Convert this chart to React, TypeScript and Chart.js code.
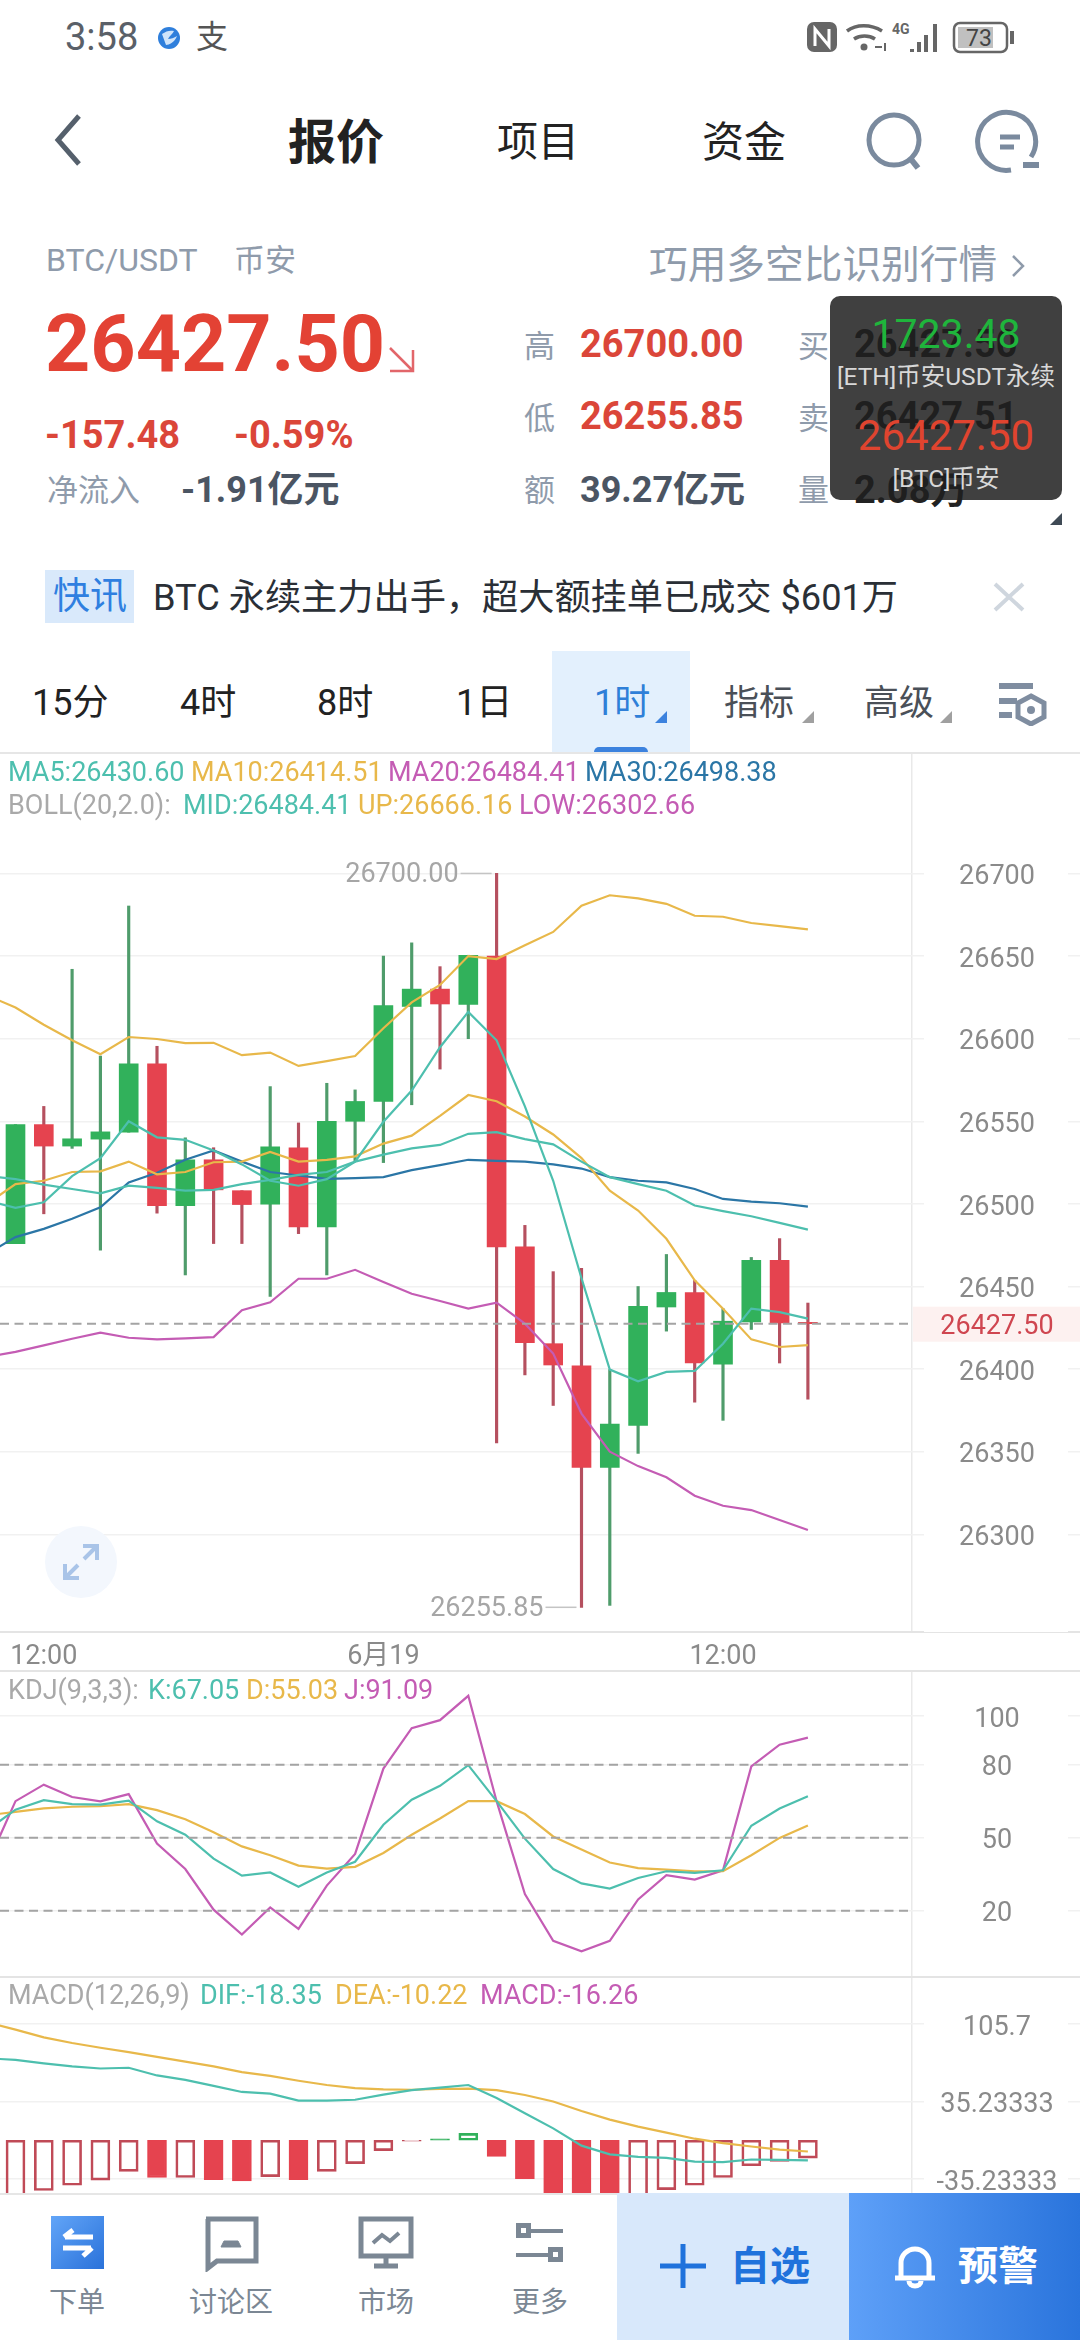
import React, { useEffect, useRef } from "react";
import { Chart, registerables } from "chart.js";

Chart.register(...registerables);

// ---------- data ----------
const candleOpen = [26476, 26548, 26535, 26539.2, 26543.4, 26584.7, 26499, 26526.7, 26508, 26499.8, 26534, 26486, 26550, 26562, 26619.5, 26630, 26620.8, 26650, 26474, 26415.4, 26402, 26340.5, 26366, 26437.6, 26446.4, 26403, 26428.5, 26465.8, 26428.3];
const candleClose = [26548, 26535, 26539.4, 26543.6, 26584.7, 26499, 26526.7, 26508.5, 26499.6, 26534.6, 26486, 26550, 26562, 26620, 26630, 26621, 26650.5, 26474, 26416, 26402.5, 26340.5, 26366.7, 26438, 26446.4, 26403.7, 26429, 26465.8, 26428, 26427.5];
const candleHigh = [26548, 26559, 26642, 26589.5, 26680.3, 26595.4, 26540, 26534, 26508, 26571, 26549, 26573, 26569, 26650, 26658, 26643.6, 26650.5, 26700, 26487, 26459, 26461, 26399.7, 26450, 26469.4, 26453.7, 26436.6, 26467.6, 26479, 26440];
const candleLow = [26476, 26494, 26533.6, 26472, 26543.4, 26494.4, 26457, 26476, 26476, 26444, 26482, 26457, 26526, 26525, 26560, 26581.6, 26600, 26355.4, 26396.5, 26378, 26255.85, 26257, 26349, 26423, 26380, 26369, 26424, 26403.7, 26381.8];

// line series start one slot before the first visible candle
const ma5 = [26502, 26497.6, 26501, 26516.8, 26527.7, 26550, 26540.3, 26538.8, 26532.3, 26523.9, 26514, 26511, 26515, 26525.6, 26549.7, 26568.6, 26594.8, 26616.2, 26599, 26559, 26514, 26455, 26399.7, 26392.6, 26398.3, 26398.9, 26415.4, 26436.6, 26434.5, 26430.6];
const ma10 = [26500, 26512, 26514, 26519.3, 26519.7, 26525.6, 26517.9, 26519.3, 26525.2, 26525.6, 26531.5, 26525.6, 26526.7, 26528.8, 26536.5, 26541.3, 26553.3, 26565.9, 26562.1, 26552.9, 26542, 26527.7, 26508, 26496, 26478.9, 26453.7, 26436.6, 26418, 26413.4, 26414.51];
const ma30 = [26469.8, 26479.9, 26484.9, 26491, 26498, 26513, 26518.9, 26526.7, 26532.3, 26525.6, 26519.3, 26517.2, 26515.1, 26515.6, 26516.2, 26520.4, 26523.5, 26526.7, 26526, 26525.6, 26523.9, 26521.4, 26516.2, 26514, 26513, 26509, 26503, 26501.4, 26500.4, 26498.38];
const bollMid = [26517, 26515, 26511.7, 26509, 26506.4, 26511, 26509.7, 26508, 26508.5, 26512, 26514.5, 26517.6, 26519.3, 26525.6, 26529.8, 26533.6, 26535.7, 26542.4, 26543.4, 26539.2, 26536, 26525.6, 26516.2, 26512, 26508, 26499, 26495.6, 26492.5, 26488.5, 26484.41];
const bollUp = [26626.2, 26618.9, 26608.4, 26599, 26590.6, 26601, 26599.8, 26597.3, 26597.5, 26590, 26591.6, 26583.5, 26586.4, 26589.5, 26606.3, 26622, 26632.5, 26650, 26648.2, 26656.6, 26664.6, 26680.5, 26686.8, 26684.9, 26681.6, 26674.4, 26673.8, 26670, 26668.1, 26666.16];
const bollLow = [26407.4, 26410.4, 26414.4, 26418.4, 26422.1, 26419, 26418, 26418.6, 26419.4, 26435.6, 26440.4, 26454.7, 26454.7, 26460.1, 26452.7, 26445.6, 26441.2, 26436.6, 26440.2, 26427.5, 26409.4, 26373.1, 26350, 26341.3, 26334.5, 26323.4, 26317.3, 26314.7, 26308.7, 26302.66];

const kdjK = [53.1, 61.5, 65.4, 63.8, 63.6, 65.2, 56.7, 51.2, 41.4, 34.4, 35.7, 29.8, 35.7, 40.1, 55.3, 65.6, 71.3, 79.8, 65, 49.6, 37.1, 31.2, 29.1, 33.4, 36.2, 35.5, 36.6, 54.9, 62, 67.05];
const kdjD = [59.2, 60.6, 62, 62.7, 62.9, 63.8, 61.3, 57.6, 52.2, 46.4, 42.8, 38.5, 37.3, 38, 43.7, 51.2, 57.9, 65, 65, 59.7, 50.5, 45.1, 39.8, 37.5, 36.9, 36.2, 36.2, 42.8, 49.9, 55.03];
const kdjJ = [39, 65, 71.8, 66.7, 64.9, 67.9, 47.6, 37.1, 20.4, 10.2, 21.3, 12.5, 30.3, 43.3, 78.4, 95, 98.3, 108.3, 65, 26.8, 7.6, 3.3, 7.6, 24.6, 34.6, 32.8, 36.6, 79.3, 88.2, 91.09];

const macdDif = [74.6, 73, 69.9, 67.1, 65.2, 65.9, 58.9, 54.9, 49.4, 43.9, 42.3, 36, 36, 36.8, 41.5, 45.5, 47.8, 50.2, 38.4, 24.6, 10.8, -4.9, -12.8, -15.2, -16, -19.5, -19.9, -17.5, -17.9, -18.35];
const macdDea = [107.3, 100.6, 93.5, 88.4, 84.1, 80.1, 75.8, 71.5, 67.1, 62, 58.5, 54.1, 50.2, 47.4, 46.3, 45.9, 46.6, 47, 45.5, 41.1, 35.2, 26.6, 18.7, 12.4, 6.9, 1.4, -2.6, -5.7, -8.5, -10.22];
const macdBars = [-57, -45.7, -40.9, -36.2, -28.3, -33.9, -33.9, -35.8, -37, -33.1, -35.8, -28.3, -21.3, -9.4, -0.8, 1.2, 6.3, -14.6, -35, -49, -63, -63, -55, -44.9, -40.9, -33.9, -23.2, -19.3, -16.26];
const macdSolid = [0, 0, 0, 0, 0, 1, 0, 1, 1, 0, 1, 0, 0, 0, 0, 1, 0, 1, 1, 1, 1, 1, 0, 0, 0, 0, 0, 0, 0];

const lastPrice = 26427.5;
const highPrice = 26700;
const lowPrice = 26255.85;
const highIndex = 17;
const lowIndex = 20;
const priceTicks = [26300, 26350, 26400, lastPrice, 26450, 26500, 26550, 26600, 26650, 26700];
const kdjTicks = [20, 50, 80, 100];
const kdjDashes = [20, 50, 80];
const macdTicks = [-35.23333, 35.23333, 105.7];
const macdTickLabels = ["-35.23333", "35.23333", "105.7"];
const timeTickIndex = [1, 13, 25];
const timeTickLabels = ["12:00", "6月19", "12:00"];

// ---------- layout and style ----------
const SLOT = 28.3;
const FIRST = 15.5;
const xOf = (px: number) => (px - FIRST) / SLOT;
const X_MIN = xOf(0);
const X_MAX = xOf(1080);
const X_SEP = xOf(912);
const FONT = 'Roboto, "Noto Sans CJK SC", sans-serif';
const UP = "#31B15B";
const DOWN = "#E5434F";
const UP_WICK = "#4F9C6B";
const DOWN_WICK = "#B5505F";
const TEAL = "#4DBFAE";
const YELLOW = "#E8B84A";
const MAGENTA = "#C45CB4";
const BLUE = "#2B76A6";
const GRID = "#F1F1F1";
const TICK = "#8A8A8A";
const GREY = "#8F9BAB";
const RED = "#DB4639";
const TICK_FONT = 27;

function series(values: number[]) {
  return values.map((y, i) => ({ x: i - 1, y }));
}
function lineSet(values: number[], color: string, order: number) {
  return { type: "line", data: series(values), borderColor: color, borderWidth: 2.2, pointRadius: 0, tension: 0, order };
}
function dashSet(value: number) {
  return {
    type: "line",
    data: [{ x: X_MIN, y: value }, { x: X_SEP, y: value }],
    borderColor: "#A4A4A4",
    borderWidth: 2,
    borderDash: [9, 5.5],
    pointRadius: 0,
    order: 0,
  };
}
function paddingFor(labels: string[]) {
  const ctx = document.createElement("canvas").getContext("2d")!;
  ctx.font = `${TICK_FONT}px Roboto`;
  const widest = Math.max(...labels.map((l) => ctx.measureText(l).width));
  return 997 - 1080 + widest / 2;
}
function xScale(showLabels: boolean) {
  const values = [...timeTickIndex, X_SEP];
  return {
    type: "linear",
    min: X_MIN,
    max: X_MAX,
    offset: false,
    afterBuildTicks: (s: any) => { s.ticks = values.map((value) => ({ value })); },
    afterFit: (s: any) => { s.height = showLabels ? 39 : 0; },
    border: { display: showLabels, color: "#E4E4E4", width: 2 },
    grid: {
      offset: false,
      drawTicks: false,
      lineWidth: 1.5,
      color: (c: any) => (c.tick && c.tick.value === X_SEP ? "#E9E9E9" : "rgba(0,0,0,0)"),
    },
    ticks: {
      display: showLabels,
      autoSkip: false,
      maxRotation: 0,
      padding: 9,
      color: TICK,
      z: 1,
      font: { family: FONT, size: TICK_FONT },
      callback: (v: number) => {
        const i = timeTickIndex.indexOf(v);
        return i < 0 ? "" : timeTickLabels[i];
      },
    },
  };
}
function yScale(min: number, max: number, ticks: number[], labels: string[]) {
  return {
    type: "linear",
    position: "right",
    min,
    max,
    afterBuildTicks: (s: any) => { s.ticks = ticks.map((value) => ({ value })); },
    border: { display: false },
    grid: {
      drawTicks: false,
      lineWidth: 1.5,
      color: (c: any) => (c.tick && c.tick.value === lastPrice ? "rgba(0,0,0,0)" : GRID),
    },
    ticks: {
      mirror: true,
      crossAlign: "center",
      padding: paddingFor(labels),
      labelOffset: 4,
      autoSkip: false,
      z: 1,
      font: { family: FONT, size: TICK_FONT },
      color: (c: any) => (c.tick && c.tick.value === lastPrice ? "#CF4650" : TICK),
      callback: (v: number) => labels[ticks.indexOf(v)],
    },
  };
}
// clears the grid behind the axis labels (and tints the current price row)
const gutterPlugin = {
  id: "gutter",
  beforeDatasetsDraw(chart: any) {
    const { ctx, chartArea, scales } = chart;
    ctx.save();
    ctx.fillStyle = "#FFFFFF";
    ctx.fillRect(924, chartArea.top, 144, chartArea.bottom - chartArea.top);
    if (chart.options.plugins.gutter.price) {
      const y = scales.y.getPixelForValue(lastPrice);
      ctx.fillStyle = "#FDF1F0";
      ctx.fillRect(913, y - 17, 167, 35);
    }
    ctx.restore();
  },
};
// high and low markers next to their wicks
const extremesPlugin = {
  id: "extremes",
  afterDatasetsDraw(chart: any) {
    const { ctx, scales } = chart;
    const mark = (index: number, value: number, text: string) => {
      const x = scales.x.getPixelForValue(index);
      const y = scales.y.getPixelForValue(value);
      ctx.save();
      ctx.strokeStyle = "#C4C4C4";
      ctx.lineWidth = 1.5;
      ctx.beginPath();
      ctx.moveTo(x - 36, y);
      ctx.lineTo(x - 5, y);
      ctx.stroke();
      ctx.fillStyle = "#A6A6A6";
      ctx.font = `${TICK_FONT}px ${FONT}`;
      ctx.textAlign = "right";
      ctx.textBaseline = "middle";
      ctx.fillText(text, x - 38, y + 2);
      ctx.restore();
    };
    mark(highIndex, highPrice, highPrice.toFixed(2));
    mark(lowIndex, lowPrice, lowPrice.toFixed(2));
  },
};
function baseOptions(extra: any) {
  return {
    responsive: false,
    animation: false,
    devicePixelRatio: 1,
    events: [],
    layout: { padding: 0 },
    datasets: { bar: { grouped: false } },
    plugins: { legend: { display: false }, tooltip: { enabled: false }, gutter: {} },
    ...extra,
  };
}

function useChart(make: (canvas: HTMLCanvasElement) => Chart) {
  const ref = useRef<HTMLCanvasElement>(null);
  useEffect(() => {
    const chart = make(ref.current!);
    return () => chart.destroy();
  }, []);
  return ref;
}

function PriceChart() {
  const ref = useChart((canvas) => {
    const isUp = (i: number) => candleClose[i] >= candleOpen[i];
    return new Chart(canvas, {
      type: "bar",
      data: {
        datasets: [
          dashSet(lastPrice),
          lineSet(bollMid, TEAL, 1),
          lineSet(ma5, TEAL, 1),
          lineSet(ma10, YELLOW, 2),
          lineSet(bollUp, YELLOW, 2),
          lineSet(bollLow, MAGENTA, 2),
          lineSet(ma30, BLUE, 3),
          {
            data: candleOpen.map((o, i) => ({ x: i, y: [o, candleClose[i]] })),
            backgroundColor: candleOpen.map((_, i) => (isUp(i) ? UP : DOWN)),
            barThickness: 19,
            order: 5,
          },
          {
            data: candleLow.map((l, i) => ({ x: i, y: [l, candleHigh[i]] })),
            backgroundColor: candleLow.map((_, i) => (isUp(i) ? UP_WICK : DOWN_WICK)),
            barThickness: 2.5,
            order: 6,
          },
        ] as any,
      },
      options: baseOptions({
        plugins: { legend: { display: false }, tooltip: { enabled: false }, gutter: { price: true } },
        scales: {
          x: xScale(true),
          y: yScale(26240.9, 26772.9, priceTicks, priceTicks.map((v) => (v === lastPrice ? v.toFixed(2) : String(v)))),
        },
      }) as any,
      plugins: [gutterPlugin, extremesPlugin],
    });
  });
  return <canvas ref={ref} width={1080} height={918} style={{ position: "absolute", left: 0, top: 753, display: "block" }} />;
}

function KdjChart() {
  const ref = useChart((canvas) =>
    new Chart(canvas, {
      type: "line",
      data: {
        datasets: [
          ...kdjDashes.map(dashSet),
          lineSet(kdjK, TEAL, 1),
          lineSet(kdjD, YELLOW, 1),
          lineSet(kdjJ, MAGENTA, 1),
        ] as any,
      },
      options: baseOptions({
        scales: { x: xScale(false), y: yScale(-7.27, 118.5, kdjTicks, kdjTicks.map(String)) },
      }) as any,
      plugins: [gutterPlugin],
    })
  );
  return <canvas ref={ref} width={1080} height={306} style={{ position: "absolute", left: 0, top: 1671, display: "block" }} />;
}

function MacdChart() {
  const ref = useChart((canvas) => {
    const tone = (i: number) => (macdBars[i] >= 0.5 ? UP : macdSolid[i] ? DOWN : "#C04A57");
    return new Chart(canvas, {
      type: "bar",
      data: {
        datasets: [
          lineSet(macdDif, TEAL, 1),
          lineSet(macdDea, YELLOW, 1),
          {
            data: macdBars.map((y, i) => ({ x: i, y })),
            backgroundColor: macdBars.map((_, i) => (macdSolid[i] ? tone(i) : "rgba(0,0,0,0)")),
            borderColor: macdBars.map((_, i) => tone(i)),
            borderWidth: 2,
            borderSkipped: false,
            barThickness: 19,
            order: 5,
          },
        ] as any,
      },
      options: baseOptions({
        scales: { x: xScale(false), y: yScale(-47.96, 148.4, macdTicks, macdTickLabels) },
      }) as any,
      plugins: [gutterPlugin],
    });
  });
  return <canvas ref={ref} width={1080} height={216} style={{ position: "absolute", left: 0, top: 1977, display: "block" }} />;
}

type TP = { x: number; y: number; s: number; c: string; b?: boolean; a?: "l" | "c" | "r"; children: React.ReactNode };
function T({ x, y, s, c, b, a = "l", children }: TP) {
  const tx = a === "l" ? "0" : a === "c" ? "-50%" : "-100%";
  return (
    <div style={{ position: "absolute", left: x, top: y, transform: `translate(${tx},-50%)`, fontSize: s, color: c, fontWeight: b ? 700 : 400, fontFamily: FONT, lineHeight: 1.1, whiteSpace: "pre" }}>
      {children}
    </div>
  );
}
function Box({ x, y, w, h, bg, r = 0 }: { x: number; y: number; w: number; h: number; bg: string; r?: number | string }) {
  return <div style={{ position: "absolute", left: x, top: y, width: w, height: h, background: bg, borderRadius: r }} />;
}

function Triangle({ x, y, c }: { x: number; y: number; c: string }) {
  return <svg style={{ position: "absolute", left: x, top: y }} width="12" height="12"><path d="M12 0V12H0Z" fill={c} /></svg>;
}

function Overlay() {
  const FS = 27;
  return (
    <>
      {/* status bar */}
      <T x={65} y={38} s={38} c="#5A6068">3:58</T>
      <svg style={{ position: "absolute", left: 157, top: 26 }} width="24" height="24"><circle cx="12" cy="12" r="11" fill="#2F7FDC" /><path d="M5 8c4-3 8-4 12-3-1 3-5 5-6 8 3 0 6-1 9-3-2 6-8 9-11 9z" fill="#CFE4FA" /></svg>
      <T x={212} y={38} s={32} c="#555" a="c">支</T>
      <svg style={{ position: "absolute", left: 804, top: 20 }} width="215" height="36" fill="none" stroke="#666" strokeWidth="3">
        <rect x="3" y="2" width="30" height="30" rx="7" fill="#666" stroke="none" />
        <path d="M11 26V9l14 17V9" stroke="#fff" strokeWidth="3" />
        <path d="M43 11c9-7 24-7 35 0M50 19c6-4 15-4 21 0" strokeWidth="3.5" />
        <circle cx="60" cy="27" r="3.5" fill="#666" stroke="none" />
        <path d="M71 27h7M81 23v8" strokeWidth="2" />
        <text x="88" y="14" fontSize="14" fontWeight="700" fill="#666" stroke="none" fontFamily="Roboto">4G</text>
        <path d="M108 32v-3M115 32v-10M122 32v-17M131 32v-28" strokeWidth="4" />
        <rect x="150" y="3" width="53" height="29" rx="6" strokeWidth="2.5" />
        <rect x="154" y="7" width="35" height="21" fill="#C0C0C0" stroke="none" />
        <path d="M208 11v13" strokeWidth="4" />
        <text x="175" y="26" fontSize="23" fill="#444" stroke="none" textAnchor="middle" fontFamily="Roboto">73</text>
      </svg>

      {/* title bar */}
      <svg style={{ position: "absolute", left: 50, top: 112 }} width="34" height="56" fill="none"><path d="M29 4L8 28l21 24" stroke="#55606C" strokeWidth="5" /></svg>
      <T x={336} y={143} s={48} c="#222" b a="c">报价</T>
      <T x={538} y={143} s={41} c="#222" a="c">项目</T>
      <T x={744} y={143} s={42} c="#222" a="c">资金</T>
      <svg style={{ position: "absolute", left: 858, top: 105 }} width="76" height="76" fill="none" stroke="#7A8A9E" strokeWidth="5"><circle cx="36" cy="35" r="25" /><path d="M52 53l8 10" strokeWidth="6" /></svg>
      <svg style={{ position: "absolute", left: 973, top: 105 }} width="76" height="76" fill="none" stroke="#7A8A9E" strokeWidth="5"><path d="M58 52A29 29 0 1 0 38 65" /><path d="M27 32h20M27 42h14" /><path d="M50 60h16" strokeWidth="6" /></svg>

      {/* quote block */}
      <T x={46} y={261} s={32} c={GREY}>BTC/USDT</T>
      <T x={234} y={261} s={31} c={GREY}>币安</T>
      <T x={649} y={265} s={38.7} c={GREY}>巧用多空比识别行情</T>
      <svg style={{ position: "absolute", left: 1009, top: 252 }} width="18" height="28" fill="none"><path d="M4 4l10 10L4 24" stroke={GREY} strokeWidth="2.5" /></svg>
      <T x={45} y={344} s={79} c="#E34234" b>26427.50</T>
      <svg style={{ position: "absolute", left: 386, top: 344 }} width="32" height="30" fill="none" stroke="#E2666A" strokeWidth="2.5"><path d="M4 4l23 23M27 6v21H4" /></svg>
      <T x={45} y={436} s={38} c={RED} b>-157.48</T>
      <T x={234} y={436} s={38} c={RED} b>-0.59%</T>
      <T x={47} y={491} s={31} c={GREY}>净流入</T>
      <T x={181} y={491} s={36} c="#4B5563" b>-1.91亿元</T>
      <T x={524} y={347} s={31} c={GREY}>高</T>
      <T x={524} y={419} s={31} c={GREY}>低</T>
      <T x={524} y={491} s={31} c={GREY}>额</T>
      <T x={580} y={345} s={38} c={RED} b>26700.00</T>
      <T x={580} y={417} s={38} c={RED} b>26255.85</T>
      <T x={580} y={491} s={36} c="#4B5563" b>39.27亿元</T>
      <T x={798} y={347} s={31} c={GREY}>买</T>
      <T x={798} y={419} s={31} c={GREY}>卖</T>
      <T x={798} y={491} s={31} c={GREY}>量</T>
      <T x={854} y={345} s={38} c="#222" b>26427.50</T>
      <T x={854} y={417} s={38} c="#222" b>26427.51</T>
      <T x={854} y={491} s={38} c="#222" b>2.08万</T>
      <Box x={830} y={296} w={232} h={204} bg="rgba(30,30,30,0.85)" r={10} />
      <T x={946} y={335} s={41} c="#1FB53C" a="c">1723.48</T>
      <T x={946} y={377} s={24.5} c="#D8D8D8" a="c">[ETH]币安USDT永续</T>
      <T x={946} y={436} s={42} c="#E0442F" a="c">26427.50</T>
      <T x={946} y={479} s={24.5} c="#D8D8D8" a="c">[BTC]币安</T>
      <Triangle x={1050} y={513} c="#3F4A55" />

      {/* news strip */}
      <Box x={45} y={570} w={89} h={53} bg="#D9E9FB" />
      <T x={90} y={597} s={37} c="#2F7FE0" a="c">快讯</T>
      <T x={153} y={598} s={36.2} c="#2A2F36">BTC 永续主力出手，超大额挂单已成交 $601万</T>
      <svg style={{ position: "absolute", left: 992, top: 581 }} width="34" height="32" fill="none"><path d="M3 3l28 26M31 3L3 29" stroke="#CFD6DE" strokeWidth="4" /></svg>

      {/* period tabs */}
      <Box x={552} y={651} w={138} h={102} bg="#E3F0FD" />
      <Box x={594} y={747} w={54} h={6} bg="#3C82DE" r="5px 5px 0 0" />
      <T x={32} y={704} s={36} c="#222">15分</T>
      <T x={180} y={704} s={36} c="#222">4时</T>
      <T x={317} y={704} s={36} c="#222">8时</T>
      <T x={456} y={704} s={36} c="#222">1日</T>
      <T x={594} y={704} s={36} c="#2F7FD8">1时</T>
      <Triangle x={655} y={711} c="#3C82DE" />
      <T x={724} y={704} s={35} c="#4A5058">指标</T>
      <Triangle x={802} y={711} c="#A0A0A0" />
      <T x={864} y={704} s={35} c="#4A5058">高级</T>
      <Triangle x={940} y={711} c="#A0A0A0" />
      <svg style={{ position: "absolute", left: 998, top: 682 }} width="50" height="44" fill="none"><path d="M1 4h34M1 19h18M1 33h13" stroke="#7F8DA0" strokeWidth="6" /><path d="M33 14l13 7v14l-13 7-13-7V21z" stroke="#7F8DA0" strokeWidth="5" /><circle cx="33" cy="28" r="4" fill="#7F8DA0" /></svg>
      <Box x={0} y={752} w={1080} h={1.5} bg="#E6E6E6" />

      {/* indicator read-outs */}
      <T x={8} y={773} s={FS} c={TEAL}>MA5:26430.60</T>
      <T x={191} y={773} s={FS} c={YELLOW}>MA10:26414.51</T>
      <T x={388} y={773} s={FS} c={MAGENTA}>MA20:26484.41</T>
      <T x={585} y={773} s={FS} c={BLUE}>MA30:26498.38</T>
      <T x={8} y={806} s={FS} c="#A9A9A9">BOLL(20,2.0):</T>
      <T x={183} y={806} s={FS} c={TEAL}>MID:26484.41</T>
      <T x={358} y={806} s={FS} c={YELLOW}>UP:26666.16</T>
      <T x={519} y={806} s={FS} c={MAGENTA}>LOW:26302.66</T>
      <Box x={0} y={1670} w={1080} h={1.5} bg="#E4E4E4" />
      <T x={8} y={1691} s={FS} c="#A9A9A9">KDJ(9,3,3):</T>
      <T x={148} y={1691} s={FS} c={TEAL}>K:67.05</T>
      <T x={246} y={1691} s={FS} c={YELLOW}>D:55.03</T>
      <T x={344} y={1691} s={FS} c={MAGENTA}>J:91.09</T>
      <Box x={0} y={1976} w={1080} h={1.5} bg="#E4E4E4" />
      <T x={8} y={1996} s={FS} c="#A9A9A9">MACD(12,26,9)</T>
      <T x={200} y={1996} s={FS} c={TEAL}>DIF:-18.35</T>
      <T x={335} y={1996} s={FS} c={YELLOW}>DEA:-10.22</T>
      <T x={480} y={1996} s={FS} c={MAGENTA}>MACD:-16.26</T>

      {/* expand button */}
      <svg style={{ position: "absolute", left: 44, top: 1525 }} width="74" height="74" fill="none"><circle cx="37" cy="37" r="36" fill="#F3F7FD" /><path d="M21 53l13-13M21 39v14h14M53 21L40 34M39 21h14v14" stroke="#A9C4E8" strokeWidth="4" /></svg>

      {/* bottom bar */}
      <Box x={0} y={2193} w={1080} h={147} bg="#FFFFFF" />
      <Box x={0} y={2193} w={617} h={1.5} bg="#E6E6E6" />
      <svg style={{ position: "absolute", left: 51, top: 2216 }} width="53" height="53"><defs><linearGradient id="g1" x1="0" y1="0" x2="1" y2="1"><stop offset="0" stopColor="#62A5F8" /><stop offset="1" stopColor="#2A72DA" /></linearGradient></defs><rect width="53" height="53" fill="url(#g1)" /><path d="M14 21h28M22 14l-9 7M12 32h28M32 40l9-8" stroke="#fff" strokeWidth="5" fill="none" /></svg>
      <svg style={{ position: "absolute", left: 203, top: 2216 }} width="56" height="56" fill="none" stroke="#7B8794" strokeWidth="5"><path d="M3 3h50v42H14l-9 7V3z" /><path d="M18 31h20l-3-6H21z" fill="#7B8794" strokeWidth="1" /></svg>
      <svg style={{ position: "absolute", left: 358, top: 2216 }} width="56" height="54" fill="none" stroke="#7B8794" strokeWidth="5"><path d="M3 3h50v37H3zM28 40v9M16 50h24" /><path d="M15 27l9-8 8 6 9-8" strokeWidth="4" /></svg>
      <svg style={{ position: "absolute", left: 516, top: 2223 }} width="48" height="40" fill="none" stroke="#7B8794"><rect x="2.5" y="2.5" width="10" height="10" strokeWidth="5" /><path d="M15 8h32M0 32h32" strokeWidth="4" /><rect x="34.5" y="26.5" width="10" height="10" strokeWidth="5" /></svg>
      <T x={77} y={2303} s={28} c="#7B8794" a="c">下单</T>
      <T x={231} y={2303} s={28} c="#7B8794" a="c">讨论区</T>
      <T x={386} y={2303} s={28} c="#7B8794" a="c">市场</T>
      <T x={540} y={2303} s={28} c="#7B8794" a="c">更多</T>
      <Box x={617} y={2193} w={232} h={147} bg="#D8E8FB" />
      <svg style={{ position: "absolute", left: 660, top: 2244 }} width="46" height="44"><path d="M0 22h46M23 0v44" stroke="#1F72DC" strokeWidth="5" /></svg>
      <T x={730} y={2267} s={40} c="#1F72DC" b>自选</T>
      <Box x={849} y={2193} w={231} h={147} bg="linear-gradient(90deg,#5EA0F8,#2A74DC)" />
      <svg style={{ position: "absolute", left: 893, top: 2243 }} width="44" height="46" fill="none" stroke="#fff" strokeWidth="5"><path d="M2 35h40M8 35V20a14 14 0 0 1 28 0v15" /><path d="M16 38a6 5 0 0 0 12 0" /></svg>
      <T x={958} y={2267} s={40} c="#FFFFFF" b>预警</T>
    </>
  );
}

export default function App() {
  return (
    <div style={{ position: "absolute", left: 0, top: 0, width: 1080, height: 2340, overflow: "hidden", background: "#FFFFFF" }}>
      <PriceChart />
      <KdjChart />
      <MacdChart />
      <Overlay />
    </div>
  );
}
